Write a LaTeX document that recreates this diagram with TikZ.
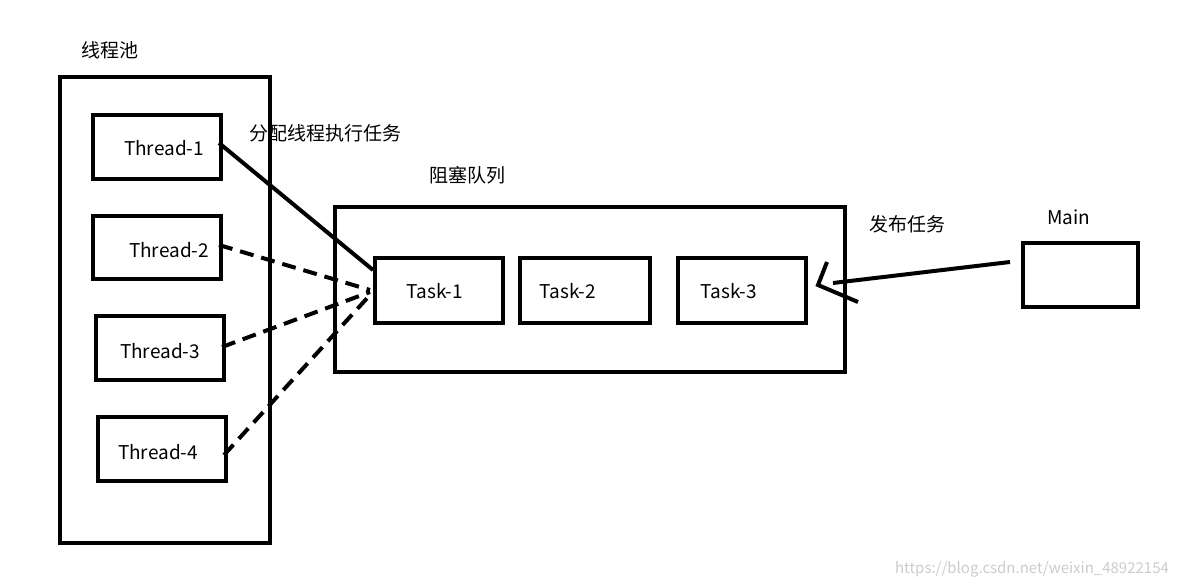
\documentclass[tikz,border=0pt]{standalone}
\usepackage{fontspec}
\setmainfont{Noto Sans CJK SC}
\begin{document}
\begin{tikzpicture}[x=1pt,y=-1pt,
  box/.style={draw,line width=4pt,inner sep=0pt,anchor=north west},
  lbl/.style={font=\fontsize{19}{22}\selectfont,inner sep=0pt},
  conn/.style={line width=4pt},
  dconn/.style={line width=4pt,dash pattern=on 14pt off 8pt}]
\useasboundingbox (0,0) rectangle (1177,588);
\fill[white] (0,0) rectangle (1177,588);
\node[lbl] (pooll) at (110,50) {线程池};
\node[box,minimum width=210pt,minimum height=466pt] (pool) at (58,75) {};
\node[box,minimum width=128pt,minimum height=64pt] (t1) at (91,113) {};
\node[lbl] at (t1.center) [xshift=7pt,yshift=-1pt] {Thread-1};
\node[box,minimum width=128pt,minimum height=63pt] (t2) at (91,214) {};
\node[lbl] at (t2.center) [xshift=12pt,yshift=-3pt] {Thread-2};
\node[box,minimum width=128pt,minimum height=64pt] (t3) at (94,314) {};
\node[lbl] at (t3.center) [xshift=0pt,yshift=-3pt] {Thread-3};
\node[box,minimum width=128pt,minimum height=64pt] (t4) at (96,415) {};
\node[lbl] at (t4.center) [xshift=-4pt,yshift=-3pt] {Thread-4};
\node[lbl] (assign) at (325,133) {分配线程执行任务};
\node[lbl] (ql) at (467,175) {阻塞队列};
\node[box,minimum width=510pt,minimum height=165pt] (queue) at (333,205) {};
\node[box,minimum width=128pt,minimum height=65pt] (k1) at (373,256) {};
\node[lbl] at (k1.center) [yshift=-1pt,xshift=-4pt] {Task-1};
\node[box,minimum width=130pt,minimum height=65pt] (k2) at (518,256) {};
\node[lbl] at (k2.center) [yshift=-1pt,xshift=-17pt] {Task-2};
\node[box,minimum width=128pt,minimum height=65pt] (k3) at (676,256) {};
\node[lbl] at (k3.center) [yshift=-1pt,xshift=-13pt] {Task-3};
\node[lbl] (pub) at (907,224) {发布任务};
\node[lbl] (ml) at (1069,217) {Main};
\node[box,minimum width=115pt,minimum height=64pt] (main) at (1021,241) {};
\coordinate (a1) at (219,143);
\coordinate (b1) at (373,270);
\draw[conn] (a1) -- (b1);
\coordinate (a2) at (219,245);
\coordinate (a3) at (222,347);
\coordinate (a4) at (224,455);
\coordinate (b2) at (370,290);
\coordinate (b3) at (370,292);
\coordinate (b4) at (370,295);
\draw[dconn] (a2) -- (b2);
\draw[dconn] (a3) -- (b3);
\draw[dconn] (a4) -- (b4);
\coordinate (ms) at (1010,262);
\coordinate (tip) at (818,285);
\coordinate (h1) at (827,262);
\coordinate (h2) at (858,302);
\draw[conn] (ms) -- (833,283);
\draw[conn,line join=miter] (h1) -- (tip) -- (h2);
\node[font=\fontsize{15}{18}\selectfont,text=black!20,inner sep=0pt] (wm) at (1032,569) {https://blog.csdn.net/weixin\_48922154};
\end{tikzpicture}
\end{document}
